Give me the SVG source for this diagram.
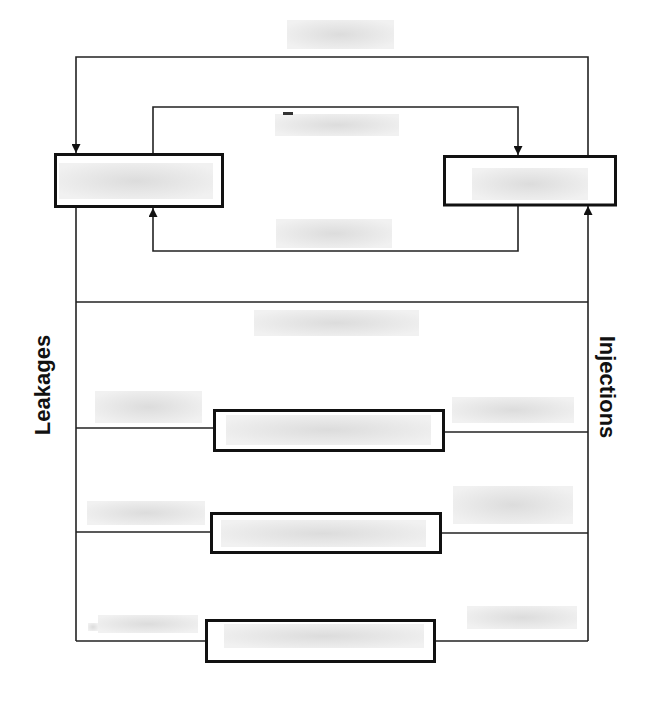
<svg xmlns="http://www.w3.org/2000/svg" width="659" height="712" viewBox="0 0 659 712">
<style>
.box{fill:#fff;stroke:#111;stroke-width:3}
.ln{fill:none;stroke:#222;stroke-width:1.6}
.blur{fill:url(#g)}
.lbl{font-family:"Liberation Sans",Arial,sans-serif;font-weight:bold;font-size:22px;fill:#111;text-anchor:middle}
</style>
<defs>
<radialGradient id="g" cx="0.5" cy="0.5" r="0.6">
<stop offset="0" stop-color="#dcdcdc"/>
<stop offset="1" stop-color="#f1f1f1"/>
</radialGradient>
<marker id="ah" viewBox="0 0 10 10" refX="10" refY="5" markerUnits="userSpaceOnUse" markerWidth="9" markerHeight="9" orient="auto">
<path d="M0,0 L10,5 L0,10 z" fill="#111"/>
</marker>
</defs>
<rect width="659" height="712" fill="#fff"/>
<g id="connectors">
<path class="ln" d="M588,155 V57 H76 V153" marker-end="url(#ah)"/>
<path class="ln" d="M588,641 V206" marker-end="url(#ah)"/>
<path class="ln" d="M76,208 V641"/>
<path class="ln" d="M153,154 V107 H518 V155" marker-end="url(#ah)"/>
<path class="ln" d="M518,206 V251 H153 V208" marker-end="url(#ah)"/>
<path class="ln" d="M76,302 H588"/>
<path class="ln" d="M76,428 H213"/>
<path class="ln" d="M445,432 H588"/>
<path class="ln" d="M76,532 H210"/>
<path class="ln" d="M442,533 H588"/>
<path class="ln" d="M76,641 H205"/>
<path class="ln" d="M436,641 H588"/>
</g>
<g id="labels-blurred">
<rect class="blur" x="287" y="20" width="107" height="29"/>
<rect class="blur" x="275" y="114" width="124" height="22"/>
<rect x="283" y="112" width="10" height="3" fill="#333"/>
<rect class="blur" x="276" y="219" width="116" height="29"/>
<rect class="blur" x="254" y="310" width="165" height="26"/>
<rect class="blur" x="95" y="391" width="107" height="32"/>
<rect class="blur" x="452" y="397" width="122" height="26"/>
<rect class="blur" x="87" y="501" width="118" height="24"/>
<rect class="blur" x="453" y="486" width="120" height="38"/>
<rect class="blur" x="98" y="615" width="100" height="18"/>
<rect class="blur" x="88" y="623" width="10" height="8"/>
<rect class="blur" x="467" y="606" width="110" height="23"/>
</g>
<g id="node-left">
<rect class="box" x="55.5" y="154.5" width="167" height="52"/>
<rect class="blur" x="59" y="163" width="154" height="36"/>
</g>
<g id="node-right">
<rect class="box" x="444.5" y="156.5" width="171" height="48.5"/>
<rect class="blur" x="472" y="168" width="116" height="32"/>
</g>
<g id="node-row1">
<rect class="box" x="214.5" y="410.5" width="229" height="40"/>
<rect class="blur" x="226" y="415" width="205" height="30"/>
</g>
<g id="node-row2">
<rect class="box" x="211.5" y="513.5" width="229" height="39"/>
<rect class="blur" x="221" y="520" width="205" height="27"/>
</g>
<g id="node-row3">
<rect class="box" x="206.5" y="620.5" width="228" height="41"/>
<rect class="blur" x="224" y="624" width="200" height="24"/>
</g>
<g id="side-labels">
<text class="lbl" transform="translate(50,385) rotate(-90)">Leakages</text>
<text class="lbl" transform="translate(600,387) rotate(90)">Injections</text>
</g>
</svg>
